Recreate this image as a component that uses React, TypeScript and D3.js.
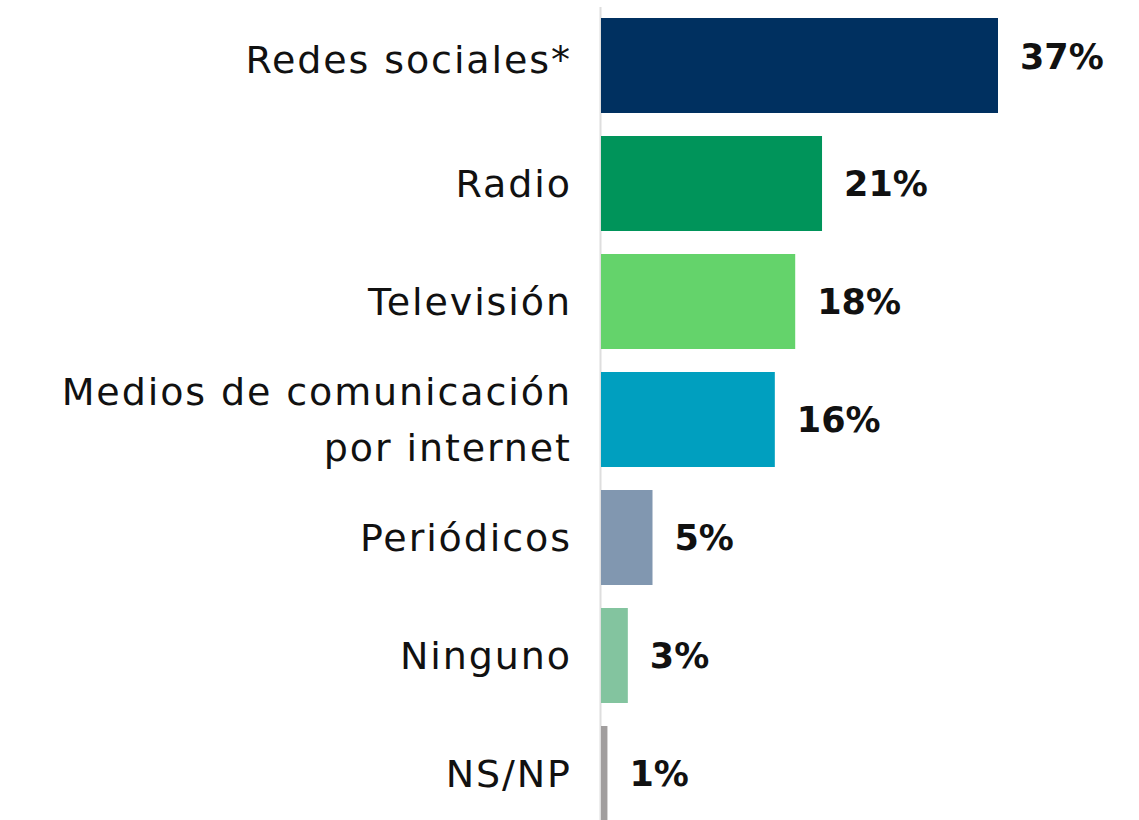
import React from "react";
import * as d3 from "d3";

const categories = [
  "Redes sociales*",
  "Radio",
  "Televisión",
  "Medios de comunicación\npor internet",
  "Periódicos",
  "Ninguno",
  "NS/NP",
];
const values = [37, 20.6, 18.1, 16.2, 4.8, 2.5, 0.6];
const valueLabels = ["37%", "21%", "18%", "16%", "5%", "3%", "1%"];
const colors = ["#003060", "#00945a", "#64d36b", "#009fbf", "#8197b0", "#83c49f", "#a19e9e"];

const W = 1139;
const H = 820;
const FONT = "'DejaVu Sans', 'Open Sans', sans-serif";

export default function App() {
  const x = d3.scaleLinear().domain([0, 37]).range([601, 998]);
  const y = d3
    .scaleBand<number>()
    .domain(d3.range(categories.length))
    .range([18, 821])
    .paddingInner(23 / 118)
    .paddingOuter(0);
  const bw = y.bandwidth();
  const ls = 1.9;

  return (
    <svg
      width={W}
      height={H}
      style={{ position: "absolute", left: 0, top: 0, display: "block", background: "#fff" }}
      fontFamily={FONT}
    >
      <line x1={600.5} x2={600.5} y1={7} y2={H} stroke="#dedede" strokeWidth={2} />
      {categories.map((c, i) => {
        const y0 = y(i)!;
        const cy = y0 + bw / 2;
        const lines = c.split("\n");
        const lh = 56;
        return (
          <g key={i}>
            <rect x={x(0)} y={y0} width={x(values[i]) - x(0)} height={bw} fill={colors[i]} />
            <text
              x={570 + ls}
              y={cy - ((lines.length - 1) * lh) / 2 - (i === 0 ? 6 : 0)}
              textAnchor="end"
              fontSize={38}
              letterSpacing={ls}
              fill="#111"
              dominantBaseline="central"
            >
              {lines.map((l, j) => (
                <tspan key={j} x={570 + ls} dy={j === 0 ? 0 : lh}>
                  {l}
                </tspan>
              ))}
            </text>
            <text
              x={x(values[i]) + 22}
              y={cy - (i === 0 ? 9 : 0)}
              fontSize={35}
              fontWeight="bold"
              fill="#111"
              dominantBaseline="central"
            >
              {valueLabels[i]}
            </text>
          </g>
        );
      })}
    </svg>
  );
}
